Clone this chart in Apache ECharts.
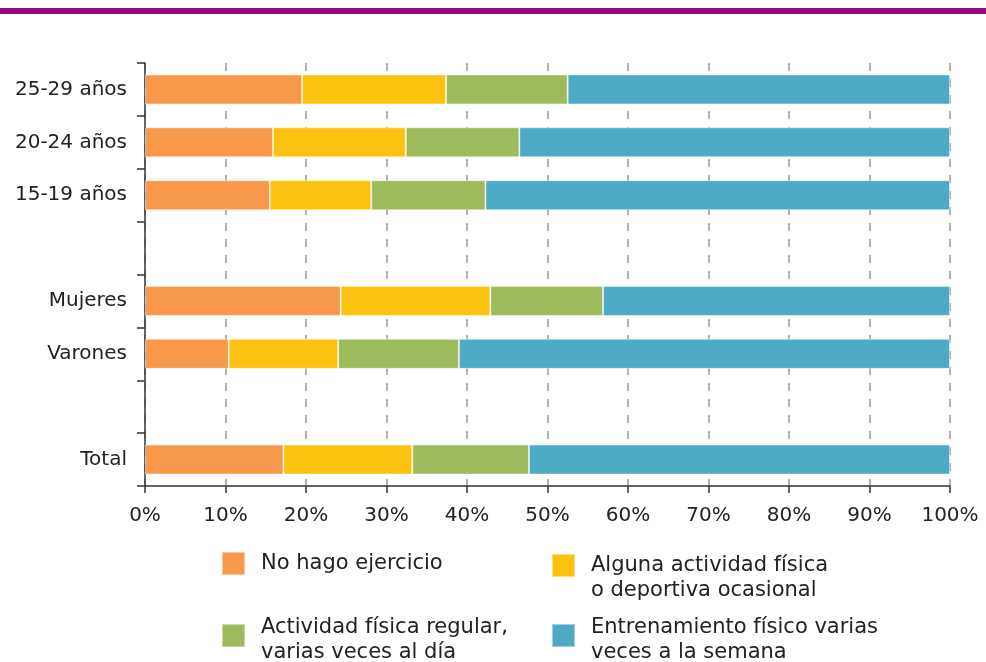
<!DOCTYPE html>
<html>
<head>
<meta charset="utf-8">
<title>Actividad física por sexo y edad</title>
<script src="https://cdn.jsdelivr.net/npm/echarts@6/dist/echarts.min.js"></script>
<style>
  html, body { margin: 0; padding: 0; background: #fff; }
  #chart { width: 986px; height: 662px; }
</style>
</head>
<body>
<div id="chart"></div>
<script>
// categorias de abajo hacia arriba (las vacias son huecos)
var categories = ['Total', '', 'Varones', 'Mujeres', '', '15-19 años', '20-24 años', '25-29 años'];

var noEjercicio   = [17.2, null, 10.4, 24.3, null, 15.5, 15.9, 19.5];
var ocasional     = [16.0, null, 13.6, 18.6, null, 12.6, 16.5, 17.9];
var regular       = [14.5, null, 15.0, 14.0, null, 14.2, 14.1, 15.1];
var entrenamiento = [52.3, null, 61.0, 43.1, null, 57.7, 53.5, 47.5];

var seriesNames = [
  'No hago ejercicio',
  'Alguna actividad física o deportiva ocasional',
  'Actividad física regular, varias veces al día',
  'Entrenamiento físico varias veces a la semana'
];
var legendLines = [
  ['No hago ejercicio'],
  ['Alguna actividad física', 'o deportiva ocasional'],
  ['Actividad física regular,', 'varias veces al día'],
  ['Entrenamiento físico varias', 'veces a la semana']
];
var xTicks = [0, 10, 20, 30, 40, 50, 60, 70, 80, 90, 100];

var colors = ['#F7984A', '#FBC20F', '#9DBB5B', '#4EABC5'];
var FONT = '"DejaVu Sans", sans-serif';

var chart = echarts.init(document.getElementById('chart'));

function makeSeries(name, data, i) {
  return {
    name: name,
    type: 'bar',
    stack: 'total',
    data: data,
    barWidth: 30,
    itemStyle: {
      color: colors[i],
      borderColor: 'rgba(255,255,255,0.45)',
      borderWidth: 1
    },
    emphasis: { disabled: true },
    animation: false
  };
}

// una leyenda por elemento para poder colocarlas en 2 columnas
// el cuadrado va alineado distinto segun el elemento, se juega con las alturas de linea
var legendPos = [
  { left: 221, top: 551, fmt: '{a|L0}' },
  { left: 551, top: 530, fmt: '{e| }\n{a|L0}\n{a|L1}' },
  { left: 221, top: 617, fmt: '{t|L0}\n{s|L1}' },
  { left: 551, top: 617, fmt: '{t|L0}\n{s|L1}' }
];
var richStyles = {
  a: { fontFamily: FONT, fontSize: 21, color: '#222', lineHeight: 25, padding: [0, 0, 0, 11] },
  e: { fontFamily: FONT, fontSize: 21, lineHeight: 25 },
  t: { fontFamily: FONT, fontSize: 21, color: '#222', lineHeight: 34, padding: [0, 0, 0, 11] },
  s: { fontFamily: FONT, fontSize: 21, color: '#222', lineHeight: 16, padding: [0, 0, 0, 11] }
};
var legends = legendPos.map(function (p, i) {
  return {
    data: [seriesNames[i]],
    left: p.left,
    top: p.top,
    padding: 0,
    itemWidth: 23,
    itemHeight: 23,
    icon: 'rect',
    selectedMode: false,
    formatter: function () {
      return p.fmt.replace('L0', legendLines[i][0]).replace('L1', legendLines[i][1] || '');
    },
    textStyle: { fontFamily: FONT, fontSize: 21, color: '#222', rich: richStyles }
  };
});

chart.setOption({
  backgroundColor: '#fff',
  textStyle: { fontFamily: FONT },
  graphic: [
    { type: 'rect', shape: { x: 0, y: 8, width: 986, height: 6 }, style: { fill: '#990682' } }
  ],
  legend: legends,
  grid: { left: 145, right: 36, top: 63, bottom: 176, containLabel: false },
  xAxis: {
    type: 'value',
    min: 0,
    max: 100,
    interval: 10,
    axisLine: { show: true, lineStyle: { color: '#333', width: 1.5 } },
    axisTick: { show: true, length: 7, lineStyle: { color: '#333', width: 1.5 } },
    axisLabel: {
      margin: 20,
      fontSize: 20,
      color: '#222',
      fontFamily: FONT,
      formatter: function (v) { return xTicks.indexOf(v) >= 0 ? v + '%' : ''; }
    },
    splitLine: { show: true, lineStyle: { color: '#999', width: 1.5, type: [8, 8] } }
  },
  yAxis: {
    type: 'category',
    data: categories,
    axisLine: { show: true, lineStyle: { color: '#333', width: 1.5 } },
    axisTick: { show: true, length: 8, lineStyle: { color: '#333', width: 1.5 } },
    axisLabel: { margin: 18, fontSize: 20, color: '#222', fontFamily: FONT },
    splitLine: { show: false }
  },
  series: [
    makeSeries(seriesNames[0], noEjercicio, 0),
    makeSeries(seriesNames[1], ocasional, 1),
    makeSeries(seriesNames[2], regular, 2),
    makeSeries(seriesNames[3], entrenamiento, 3)
  ]
});
</script>
</body>
</html>
